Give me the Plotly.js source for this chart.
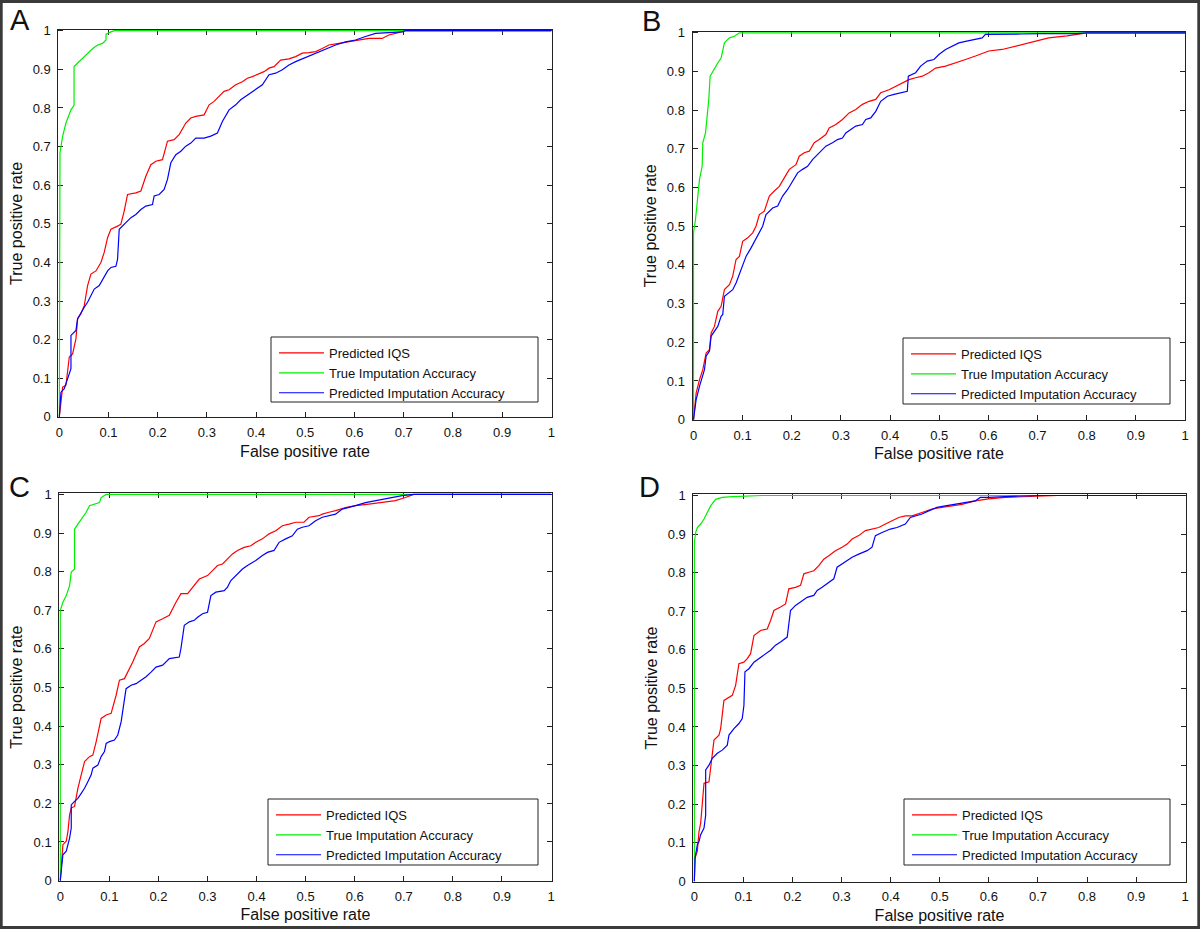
<!DOCTYPE html>
<html>
<head>
<meta charset="utf-8">
<script src="https://cdn.plot.ly/plotly-3.0.1.min.js"></script>
<style>html,body{margin:0;padding:0;background:#fff;}#chart{width:1200px;height:929px;}</style>
</head>
<body>
<div id="chart"></div>
<script>
// ---------- Data ----------
const panelLetters = ["A", "B", "C", "D"];
const seriesNames = ["Predicted IQS", "True Imputation Accuracy", "Predicted Imputation Accuracy"];
const tickVals = [0, 0.1, 0.2, 0.3, 0.4, 0.5, 0.6, 0.7, 0.8, 0.9, 1];
const tickText = ["0", "0.1", "0.2", "0.3", "0.4", "0.5", "0.6", "0.7", "0.8", "0.9", "1"];
const xTitle = "False positive rate";
const yTitle = "True positive rate";

// Panel A
const aRedX = [0,0.0034,0.0068,0.0135,0.0203,0.027,0.0338,0.0372,0.044,0.0507,0.0575,0.0643,0.0744,0.0846,0.0913,0.0981,0.1049,0.1184,0.1252,0.1319,0.1387,0.1556,0.1658,0.1759,0.1861,0.1962,0.2097,0.2199,0.2334,0.2436,0.2571,0.2673,0.2774,0.2943,0.3045,0.3146,0.3248,0.3349,0.3451,0.3586,0.3721,0.3823,0.3924,0.4026,0.4161,0.4263,0.4364,0.4499,0.4668,0.4804,0.4939,0.5074,0.521,0.5345,0.548,0.5683,0.5886,0.6089,0.6292,0.6563,0.6698,0.6834,0.7037,1];
const aRedY = [0,0.034,0.077,0.082,0.155,0.163,0.202,0.254,0.267,0.288,0.34,0.37,0.378,0.40,0.426,0.464,0.486,0.494,0.499,0.533,0.576,0.58,0.585,0.623,0.653,0.662,0.666,0.714,0.718,0.731,0.761,0.774,0.778,0.782,0.808,0.817,0.83,0.843,0.847,0.86,0.868,0.877,0.881,0.886,0.894,0.903,0.907,0.924,0.927,0.933,0.942,0.943,0.946,0.954,0.963,0.967,0.971,0.976,0.98,0.98,0.989,0.993,1,1];
const aGreenX = [0,0,0.0014,0.0068,0.0135,0.0237,0.030,0.030,0.037,0.047,0.0575,0.068,0.078,0.088,0.095,0.095,0.105,0.112,1];
const aGreenY = [0,0.67,0.684,0.727,0.761,0.795,0.807,0.907,0.916,0.929,0.942,0.954,0.963,0.967,0.976,0.991,0.997,1,1];
const aBlueX = [0,0.0014,0.0034,0.0101,0.0169,0.0237,0.0237,0.0304,0.0338,0.0372,0.044,0.0507,0.0575,0.0643,0.071,0.0812,0.0913,0.0981,0.1049,0.115,0.1184,0.1218,0.1353,0.1455,0.1556,0.1658,0.1759,0.1894,0.1928,0.203,0.2131,0.2199,0.2267,0.2368,0.247,0.2571,0.2673,0.2774,0.2943,0.3079,0.3214,0.3315,0.3451,0.3586,0.3687,0.3789,0.3958,0.4127,0.4263,0.4398,0.4533,0.4668,0.4804,0.4973,0.5142,0.5311,0.5447,0.5616,0.5819,0.6022,0.6225,0.6428,0.6698,0.6969,0.7037,1];
const aBlueY = [0,0.03,0.064,0.073,0.099,0.125,0.211,0.219,0.224,0.254,0.271,0.284,0.297,0.314,0.331,0.34,0.361,0.378,0.387,0.39,0.408,0.486,0.503,0.516,0.524,0.537,0.546,0.55,0.572,0.576,0.589,0.615,0.658,0.679,0.688,0.701,0.709,0.722,0.722,0.727,0.735,0.765,0.795,0.808,0.821,0.83,0.847,0.86,0.886,0.89,0.899,0.911,0.92,0.929,0.937,0.946,0.954,0.963,0.971,0.976,0.985,0.993,0.995,0.997,1,1];

// Panel B
const bRedX = [0,0.002,0.0054,0.0122,0.0189,0.0257,0.0325,0.0359,0.0426,0.0494,0.0562,0.0629,0.0731,0.0798,0.0866,0.0934,0.1001,0.1103,0.1204,0.1272,0.134,0.1441,0.1543,0.1644,0.1746,0.1847,0.1949,0.2084,0.2152,0.2253,0.2355,0.2456,0.2558,0.2693,0.2761,0.2896,0.3031,0.3166,0.3302,0.3437,0.3572,0.3708,0.3809,0.3978,0.4114,0.4249,0.4384,0.452,0.4655,0.479,0.4926,0.5129,0.5332,0.5535,0.5737,0.6008,0.6279,0.655,0.682,0.7091,0.7226,0.76,0.80,1];
const bRedY = [0,0.034,0.069,0.103,0.129,0.172,0.181,0.224,0.241,0.28,0.293,0.336,0.349,0.371,0.414,0.422,0.461,0.47,0.483,0.5,0.53,0.539,0.578,0.591,0.603,0.625,0.647,0.659,0.681,0.69,0.694,0.716,0.724,0.737,0.754,0.763,0.776,0.793,0.802,0.815,0.823,0.828,0.845,0.853,0.862,0.871,0.879,0.884,0.888,0.897,0.909,0.914,0.922,0.931,0.94,0.953,0.957,0.966,0.974,0.983,0.987,0.992,1,1];
const bGreenX = [0,0,0.004,0.0088,0.0122,0.0176,0.0189,0.0244,0.0291,0.0311,0.0338,0.0379,0.0426,0.0494,0.0562,0.0595,0.0629,0.0731,0.0832,0.0934,1];
const bGreenY = [0,0.483,0.517,0.586,0.621,0.655,0.716,0.741,0.793,0.828,0.888,0.897,0.909,0.922,0.935,0.953,0.974,0.987,0.991,1,1];
const bBlueX = [0,0.002,0.0054,0.0122,0.0189,0.0223,0.0257,0.0325,0.0359,0.0426,0.0494,0.0562,0.0595,0.0629,0.0731,0.0798,0.0866,0.0934,0.1001,0.1069,0.1171,0.1238,0.134,0.1407,0.1475,0.161,0.1712,0.1813,0.1915,0.2016,0.2118,0.2219,0.2321,0.2422,0.249,0.2591,0.2693,0.2828,0.293,0.3031,0.3099,0.32,0.3302,0.3437,0.3505,0.3606,0.3708,0.3809,0.3945,0.408,0.4215,0.435,0.4371,0.452,0.4621,0.4756,0.4892,0.4993,0.5129,0.5264,0.5399,0.5535,0.5737,0.5873,0.594,0.6279,0.6685,0.7091,0.78,0.80,1];
const bBlueY = [0,0.026,0.052,0.086,0.112,0.129,0.164,0.177,0.216,0.228,0.241,0.267,0.272,0.319,0.328,0.336,0.353,0.375,0.397,0.422,0.444,0.461,0.483,0.5,0.53,0.547,0.552,0.578,0.595,0.616,0.638,0.647,0.655,0.672,0.681,0.694,0.707,0.716,0.724,0.728,0.741,0.75,0.759,0.763,0.776,0.78,0.797,0.823,0.836,0.841,0.845,0.849,0.888,0.897,0.914,0.927,0.931,0.944,0.957,0.966,0.974,0.978,0.983,0.987,0.996,0.996,0.997,0.998,0.998,1,1];

// Panel C
const cRedX = [0,0.002,0.0054,0.0122,0.0156,0.019,0.0224,0.0291,0.0359,0.0427,0.0495,0.0596,0.0664,0.0732,0.0833,0.0935,0.1037,0.1138,0.1206,0.1308,0.1375,0.1477,0.1612,0.1714,0.1816,0.1951,0.2087,0.2222,0.2358,0.2459,0.2595,0.2696,0.2832,0.3001,0.3103,0.3205,0.3306,0.3408,0.3509,0.3611,0.3747,0.3882,0.3984,0.4119,0.4255,0.439,0.4526,0.4661,0.4797,0.4966,0.5068,0.5271,0.5339,0.5474,0.561,0.5813,0.6016,0.6287,0.6558,0.6829,0.7033,0.7202,1];
const cRedY = [0,0.033,0.093,0.102,0.127,0.17,0.188,0.192,0.239,0.274,0.308,0.321,0.325,0.36,0.42,0.429,0.433,0.48,0.519,0.523,0.54,0.566,0.605,0.614,0.627,0.67,0.678,0.687,0.721,0.743,0.743,0.76,0.781,0.79,0.803,0.816,0.82,0.833,0.846,0.855,0.863,0.867,0.876,0.885,0.898,0.906,0.919,0.923,0.928,0.928,0.941,0.945,0.949,0.954,0.958,0.966,0.971,0.975,0.979,0.984,0.992,1,1];
const cGreenX = [0,0,0.0054,0.0122,0.019,0.0224,0.0291,0.0291,0.0359,0.0427,0.0528,0.0596,0.0698,0.08,0.0833,0.0935,1];
const cGreenY = [0,0.70,0.721,0.738,0.764,0.799,0.807,0.910,0.923,0.936,0.954,0.971,0.975,0.979,0.992,1,1];
const cBlueX = [0,0.002,0.0054,0.0122,0.019,0.0224,0.0224,0.0291,0.0359,0.0427,0.0495,0.0562,0.063,0.0664,0.0766,0.0833,0.0901,0.0935,0.1003,0.1104,0.1172,0.124,0.1274,0.1341,0.1443,0.1545,0.1646,0.1748,0.185,0.1951,0.2087,0.2222,0.2425,0.2459,0.2527,0.2629,0.273,0.2798,0.29,0.3001,0.3069,0.3171,0.334,0.3408,0.3476,0.3611,0.3713,0.3814,0.3984,0.4119,0.4221,0.4356,0.4458,0.4593,0.4729,0.4831,0.4932,0.5068,0.5203,0.5339,0.5474,0.561,0.5745,0.5881,0.6016,0.622,0.6423,0.6694,0.6965,0.7202,1];
const cBlueY = [0,0.033,0.067,0.076,0.11,0.136,0.196,0.205,0.213,0.226,0.239,0.256,0.274,0.291,0.299,0.321,0.334,0.355,0.36,0.364,0.377,0.411,0.441,0.497,0.506,0.51,0.519,0.528,0.54,0.553,0.558,0.575,0.579,0.601,0.661,0.67,0.674,0.682,0.691,0.695,0.738,0.747,0.751,0.76,0.777,0.794,0.807,0.816,0.829,0.842,0.85,0.855,0.876,0.885,0.893,0.91,0.915,0.919,0.932,0.941,0.945,0.949,0.962,0.966,0.971,0.979,0.984,0.99,0.997,1,1];

// Panel D
const dRedX = [0,0.0014,0.0061,0.0095,0.0129,0.0163,0.0197,0.0298,0.0332,0.0366,0.04,0.0502,0.0536,0.0603,0.0705,0.0773,0.0841,0.0908,0.101,0.1078,0.1146,0.1214,0.1349,0.1485,0.1553,0.162,0.1756,0.1858,0.1925,0.2061,0.2163,0.2231,0.2332,0.2434,0.2536,0.2637,0.2739,0.2875,0.301,0.3112,0.3214,0.3349,0.3485,0.362,0.3756,0.3892,0.4027,0.4163,0.4298,0.4434,0.4637,0.4841,0.5044,0.5247,0.5451,0.5722,0.5993,0.6332,0.6671,0.70,0.74,1];
const dRedY = [0,0.06,0.078,0.129,0.151,0.198,0.254,0.258,0.293,0.327,0.366,0.379,0.396,0.469,0.478,0.482,0.508,0.564,0.568,0.577,0.59,0.637,0.65,0.654,0.676,0.702,0.711,0.719,0.758,0.762,0.767,0.797,0.801,0.805,0.818,0.835,0.844,0.857,0.866,0.874,0.887,0.896,0.909,0.913,0.917,0.926,0.935,0.943,0.947,0.947,0.956,0.965,0.969,0.973,0.977,0.986,0.991,0.995,0.997,0.998,1,1];
const dGreenX = [0,0,0.0027,0.0061,0.0129,0.0197,0.0264,0.0332,0.0434,0.0569,0.0773,0.1383,1];
const dGreenY = [0,0.879,0.904,0.917,0.926,0.939,0.956,0.973,0.99,0.995,0.997,1,1];
const dBlueX = [0,0.0014,0.0061,0.0095,0.0129,0.0197,0.0231,0.0231,0.0298,0.0366,0.0468,0.0569,0.0671,0.0705,0.0807,0.0908,0.0976,0.101,0.1031,0.1112,0.1214,0.1315,0.1417,0.1553,0.1654,0.1756,0.1892,0.1925,0.1959,0.2061,0.2163,0.2298,0.2434,0.2502,0.2603,0.2739,0.2841,0.2908,0.301,0.3112,0.3214,0.3349,0.3519,0.362,0.3688,0.3824,0.3993,0.4129,0.4298,0.44,0.4502,0.4637,0.4773,0.4942,0.5112,0.5315,0.5518,0.5722,0.5824,0.5993,0.6332,0.6671,0.70,0.74,1];
const dBlueY = [0,0.06,0.095,0.103,0.121,0.138,0.172,0.289,0.301,0.319,0.332,0.34,0.353,0.379,0.396,0.409,0.422,0.456,0.543,0.551,0.568,0.577,0.586,0.599,0.612,0.62,0.633,0.663,0.702,0.715,0.724,0.736,0.741,0.754,0.762,0.775,0.784,0.814,0.823,0.831,0.84,0.848,0.857,0.866,0.896,0.904,0.913,0.917,0.926,0.943,0.947,0.952,0.96,0.969,0.973,0.977,0.982,0.986,0.995,0.995,0.997,0.999,1,1,1];

// ---------- Build figure ----------
const colors = ["#ff0000", "#00ee00", "#0000ff"];
const panels = [
  {red: [aRedX, aRedY], green: [aGreenX, aGreenY], blue: [aBlueX, aBlueY]},
  {red: [bRedX, bRedY], green: [bGreenX, bGreenY], blue: [bBlueX, bBlueY]},
  {red: [cRedX, cRedY], green: [cGreenX, cGreenY], blue: [cBlueX, cBlueY]},
  {red: [dRedX, dRedY], green: [dGreenX, dGreenY], blue: [dBlueX, dBlueY]}
];
const xDomains = [[0.0486, 0.4598], [0.5771, 0.9879], [0.0494, 0.4596], [0.5778, 0.9881]];
const yDomains = [[0.5508, 0.9682], [0.5479, 0.9659], [0.0517, 0.4690], [0.0509, 0.4679]];
// legend boxes in pixels: [left, top, right, bottom]
const legendBox = [[271, 337, 538, 402], [903, 338, 1170, 404], [268, 799, 538, 865], [904, 799, 1170, 865]];
const letterPos = [[8, 20], [640, 21], [7, 487], [637, 487]];

const W = 1200, H = 929;
const font = "Liberation Sans, Arial, sans-serif";
const traces = [];
const layout = {
  width: W, height: H,
  margin: {l: 0, r: 0, t: 0, b: 0},
  paper_bgcolor: "#ffffff", plot_bgcolor: "#ffffff",
  font: {family: font, size: 13, color: "#111"},
  showlegend: true,
  annotations: [],
  shapes: [{type: "rect", xref: "paper", yref: "paper", x0: 0.001, x1: 0.999, y0: 0.0015, y1: 0.9985,
            line: {color: "#3a3a3a", width: 3}}]
};

panels.forEach((p, i) => {
  const n = i + 1;
  const xa = n === 1 ? "x" : "x" + n, ya = n === 1 ? "y" : "y" + n;
  const lg = n === 1 ? "legend" : "legend" + n;
  ["red", "green", "blue"].forEach((k, j) => {
    traces.push({
      type: "scatter", mode: "lines",
      x: p[k][0], y: p[k][1],
      xaxis: xa, yaxis: ya,
      name: seriesNames[j],
      legend: lg,
      line: {color: colors[j], width: 1.2},
      hoverinfo: "skip"
    });
  });
  const axCommon = {
    showline: true, linecolor: "#222", linewidth: 1, mirror: "ticks",
    ticks: "inside", ticklen: 5, tickwidth: 1, tickcolor: "#222",
    tickvals: tickVals, ticktext: tickText,
    showgrid: false, zeroline: false, layer: "below traces",
    tickfont: {family: font, size: 13, color: "#111"},
    fixedrange: true
  };
  layout["xaxis" + (n === 1 ? "" : n)] = Object.assign({}, axCommon, {
    domain: xDomains[i], anchor: ya, range: [-0.002, 1.001],
    title: {text: xTitle, font: {family: font, size: 16, color: "#111"}, standoff: 6},
    ticklabelstandoff: 3
  });
  layout["yaxis" + (n === 1 ? "" : n)] = Object.assign({}, axCommon, {
    domain: yDomains[i], anchor: xa, range: [-0.001, 1.003],
    title: {text: yTitle, font: {family: font, size: 16, color: "#111"}, standoff: 6},
    ticklabelstandoff: 4
  });
  const b = legendBox[i];
  layout.shapes.push({
    type: "rect", xref: "paper", yref: "paper", layer: "below",
    x0: b[0] / W, x1: b[2] / W, y0: 1 - b[3] / H, y1: 1 - b[1] / H,
    line: {color: "#222", width: 1}, fillcolor: "#ffffff"
  });
  layout[lg] = {
    x: (b[0] + 3) / W, y: 1 - (b[1] + 1) / H, xanchor: "left", yanchor: "top",
    xref: "paper", yref: "paper",
    bgcolor: "rgba(0,0,0,0)", borderwidth: 0,
    font: {family: font, size: 13, color: "#111"},
    itemwidth: 45, tracegroupgap: 0
  };
  layout.annotations.push({
    text: panelLetters[i], xref: "paper", yref: "paper",
    x: letterPos[i][0] / W, y: 1 - letterPos[i][1] / H,
    xanchor: "left", yanchor: "middle", showarrow: false,
    font: {family: font, size: 29, color: "#111"}
  });
});

Plotly.newPlot("chart", traces, layout, {staticPlot: true, displayModeBar: false});
</script>
</body>
</html>
